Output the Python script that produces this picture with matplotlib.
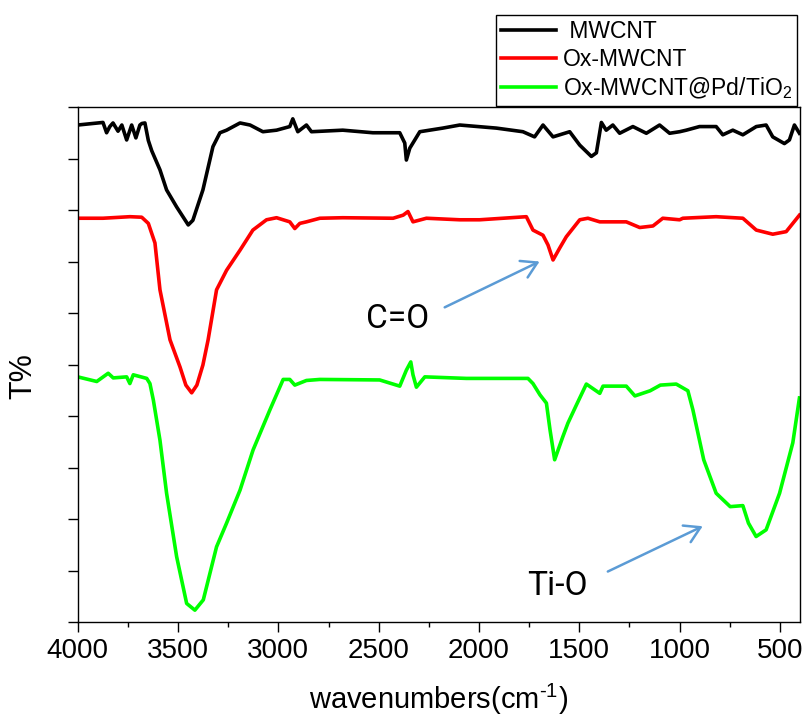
"""
FTIR spectra of MWCNT, Ox-MWCNT and Ox-MWCNT@Pd/TiO2
"""
#------------------------------------------------------------------------------
# Libraries
#------------------------------------------------------------------------------

import numpy as np
import matplotlib
matplotlib.use('Agg')
import matplotlib.pyplot as plt

plt.rcParams['font.family'] = ['Liberation Sans', 'DejaVu Sans']
plt.rcParams['mathtext.fontset'] = 'custom'
plt.rcParams['mathtext.rm'] = 'Liberation Sans'

#------------------------------------------------------------------------------
# Data (arbitrary T% units)
#------------------------------------------------------------------------------

wn_mwcnt = [4000, 3874, 3856, 3840, 3824, 3799, 3780, 3756, 3731, 3710, 3690,
            3680, 3665, 3648, 3631, 3590, 3557, 3507, 3449, 3426, 3376, 3326,
            3291, 3258, 3191, 3141, 3077, 3009, 2943, 2928, 2903, 2860, 2835,
            2679, 2529, 2395, 2370, 2362, 2345, 2295, 2181, 2096, 1913, 1781,
            1723, 1681, 1631, 1548, 1498, 1440, 1415, 1390, 1366, 1333, 1299,
            1233, 1166, 1100, 1050, 1000, 967, 901, 818, 785, 735, 685, 618,
            569, 536, 478, 453, 428, 403]
t_mwcnt = [96.5, 97.0, 95.0, 96.2, 96.9, 95.3, 96.5, 93.6, 96.5, 94.0, 96.5,
           96.8, 96.9, 93.5, 91.5, 87.8, 83.9, 80.6, 77.1, 78.0, 83.9, 92.3,
           95.0, 95.5, 96.9, 96.5, 95.2, 95.5, 96.2, 97.7, 95.2, 96.5, 95.2,
           95.5, 95.0, 95.0, 93.0, 89.7, 92.0, 95.2, 95.9, 96.5, 95.9, 95.2,
           94.2, 96.5, 94.2, 95.2, 92.6, 90.4, 91.1, 97.0, 95.5, 96.5, 94.9,
           96.2, 94.9, 96.5, 94.9, 95.2, 95.5, 96.2, 96.2, 94.6, 95.5, 94.6,
           96.2, 96.5, 94.2, 92.9, 93.6, 96.5, 94.9]

wn_ox = [4000, 3874, 3740, 3681, 3648, 3615, 3590, 3540, 3490, 3461, 3432,
         3406, 3376, 3350, 3308, 3258, 3191, 3127, 3059, 3009, 2943, 2918,
         2893, 2860, 2793, 2679, 2428, 2378, 2354, 2329, 2262, 2096, 1997,
         1764, 1731, 1681, 1656, 1631, 1598, 1565, 1498, 1457, 1398, 1266,
         1199, 1133, 1084, 1000, 984, 818, 685, 618, 536, 469, 436, 403]
t_ox = [78.4, 78.4, 78.7, 78.6, 77.4, 73.6, 64.5, 54.8, 49.5, 46.0, 44.5,
        46.0, 49.9, 54.8, 64.5, 68.3, 72.2, 76.1, 78.1, 78.5, 77.7, 76.4,
        77.4, 77.7, 78.4, 78.5, 78.4, 79.0, 79.7, 77.7, 78.4, 78.1, 78.1,
        78.7, 76.1, 75.1, 73.2, 70.3, 72.6, 74.8, 78.1, 78.4, 77.7, 77.7,
        76.6, 76.9, 78.4, 78.1, 78.4, 78.7, 78.4, 76.1, 75.3, 75.8, 77.4, 79.0]

wn_pd = [4000, 3905, 3848, 3823, 3756, 3740, 3723, 3656, 3640, 3623, 3590,
         3557, 3507, 3457, 3416, 3374, 3308, 3258, 3191, 3126, 3042, 2976,
         2943, 2918, 2860, 2793, 2495, 2395, 2362, 2340, 2329, 2312, 2270,
         2063, 1756, 1731, 1696, 1664, 1646, 1623, 1582, 1557, 1515, 1465,
         1398, 1382, 1333, 1266, 1223, 1147, 1096, 1017, 959, 934, 880, 818,
         748, 685, 657, 619, 569, 502, 436, 403]
t_pd = [47.6, 46.7, 48.3, 47.4, 47.6, 46.3, 48.0, 47.3, 46.3, 43.1, 35.3,
        25.0, 12.7, 3.6, 2.3, 4.3, 14.6, 19.2, 25.6, 33.4, 41.2, 47.1,
        47.1, 46.0, 46.9, 47.1, 47.0, 45.8, 48.9, 50.5, 48.0, 45.6, 47.6,
        47.3, 47.3, 46.3, 44.1, 42.5, 37.3, 31.5, 36.0, 38.6, 42.1, 46.2,
        44.4, 45.8, 45.8, 45.8, 43.9, 44.9, 46.0, 46.2, 44.9, 41.2, 31.5, 25.0,
        22.4, 22.6, 19.2, 16.6, 17.9, 25.0, 34.8, 43.5]

labels = [' MWCNT', 'Ox-MWCNT', 'Ox-MWCNT@Pd/TiO$_{\\mathregular{2}}$']
colors = ['black', '#ff0000', '#00ff00']

# annotation: (label, text position, arrow tail, arrow head)
notes = [('C=O', (2407, 58.8), (2171, 61.1), (1698, 70.0)),
         ('Ti-O', (1608, 6.9), (1358, 9.8), (885, 18.6))]

#------------------------------------------------------------------------------
# Figure
#------------------------------------------------------------------------------

fig = plt.figure(figsize=(8.06, 7.22), dpi=100)
ax = fig.add_axes([0.0964, 0.1385, 0.8962, 0.7133])

series = [(wn_mwcnt, t_mwcnt), (wn_ox, t_ox), (wn_pd, t_pd)]
for (x, y), lab, c in zip(series, labels, colors):
    ax.plot(x, y, color=c, lw=2.6, label=lab, solid_joinstyle='round')

for txt, pos, tail, head in notes:
    ax.annotate('', xy=head, xytext=tail,
                arrowprops=dict(arrowstyle='->,head_length=0.5,head_width=0.3',
                                color='#5b9bd5', lw=1.8, mutation_scale=22,
                                shrinkA=0, shrinkB=0))
    ax.text(pos[0], pos[1], txt, fontsize=24, family='Roboto',
            ha='center', va='center')

ax.set_xlim(4000, 400)
ax.set_ylim(0, 100)
ax.set_xticks(np.arange(4000, 499, -500))
ax.set_xticks(np.arange(3750, 400, -500), minor=True)
ax.set_yticks(np.arange(0, 101, 10))
ax.set_yticklabels([])
ax.tick_params(axis='both', which='major', direction='out', length=7.2,
               width=1.0, labelsize=20, pad=4)
ax.tick_params(axis='x', which='minor', direction='out', length=3.6, width=1.0)
for s in ax.spines.values():
    s.set_linewidth(1.0)

ax.set_xlabel('wavenumbers(cm$^{\u20101}$)', fontsize=21, labelpad=13)
ax.set_ylabel('T%', fontsize=22)
ax.yaxis.set_label_coords(-0.054, 0.478)

leg = ax.legend(loc='lower right', bbox_to_anchor=(0.989, 0.853),
                bbox_transform=fig.transFigure, borderaxespad=0,
                fontsize=16.5, frameon=True, fancybox=False, edgecolor='black',
                framealpha=1, handlelength=2.4, handletextpad=0.3,
                labelspacing=0.2, borderpad=0.22)
leg.get_frame().set_linewidth(1.0)

plt.savefig('out.png', dpi=100)
